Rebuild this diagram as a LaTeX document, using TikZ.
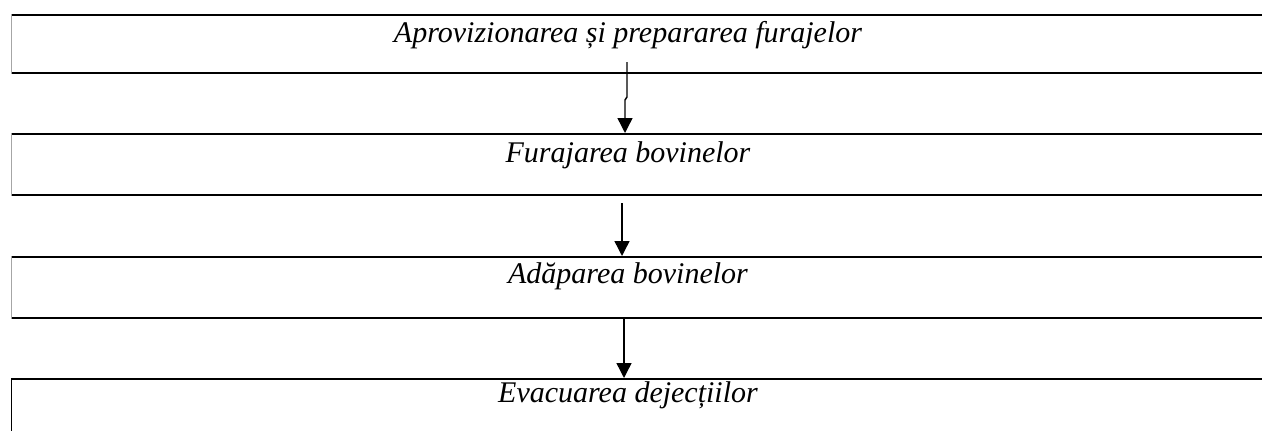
\documentclass[tikz,border=0pt]{standalone}
\usepackage{fontspec}
\setmainfont{Liberation Serif}
\usetikzlibrary{arrows.meta}
\begin{document}
\begin{tikzpicture}[x=1pt,y=-1pt,
  box/.style={draw, line width=1.8pt, rectangle, inner sep=0, anchor=north west, minimum width=1300pt},
  lbl/.style={font=\fontsize{30}{33}\selectfont\itshape, anchor=base, inner sep=0},
  arr/.style={line width=1.4pt, -{Triangle[length=15pt,width=15pt]}},
  edge/.style={gray!70, line width=0.8pt}]
\useasboundingbox (0,0) rectangle (1262,431);
\clip (0,0) rectangle (1262,431);
\node[box, minimum height=58pt] (b1) at (10.5,14) {};
\node[box, minimum height=61pt] (b2) at (10.5,133) {};
\node[box, minimum height=61pt] (b3) at (10.5,256) {};
\node[box, minimum height=80pt] (b4) at (10.5,378) {};
\draw[edge] ([xshift=1.2pt]b1.north west) -- ([xshift=1.2pt]b1.south west);
\draw[edge] ([xshift=1.2pt]b2.north west) -- ([xshift=1.2pt]b2.south west);
\draw[edge] ([xshift=1.2pt]b3.north west) -- ([xshift=1.2pt]b3.south west);
\node[lbl] (t1) at (628,42) {Aprovizionarea și prepararea furajelor};
\node[lbl] (t2) at (628,162) {Furajarea bovinelor};
\node[lbl] (t3) at (628,283) {Adăparea bovinelor};
\node[lbl] (t4) at (628,402) {Evacuarea dejecțiilor};
\coordinate (a1s) at (627,62);
\coordinate (a1m) at (627,97);
\coordinate (a1n) at (625,100);
\coordinate (a2s) at (622,203);
\coordinate (a3s) at (624,317);
\draw[arr] (a1s) -- (a1m) -- (a1n) -- (a1n |- b2.north);
\draw[arr] (a2s) -- (a2s |- b3.north);
\draw[arr] (a3s |- b3.south) -- (a3s |- b4.north);
\end{tikzpicture}
\end{document}
